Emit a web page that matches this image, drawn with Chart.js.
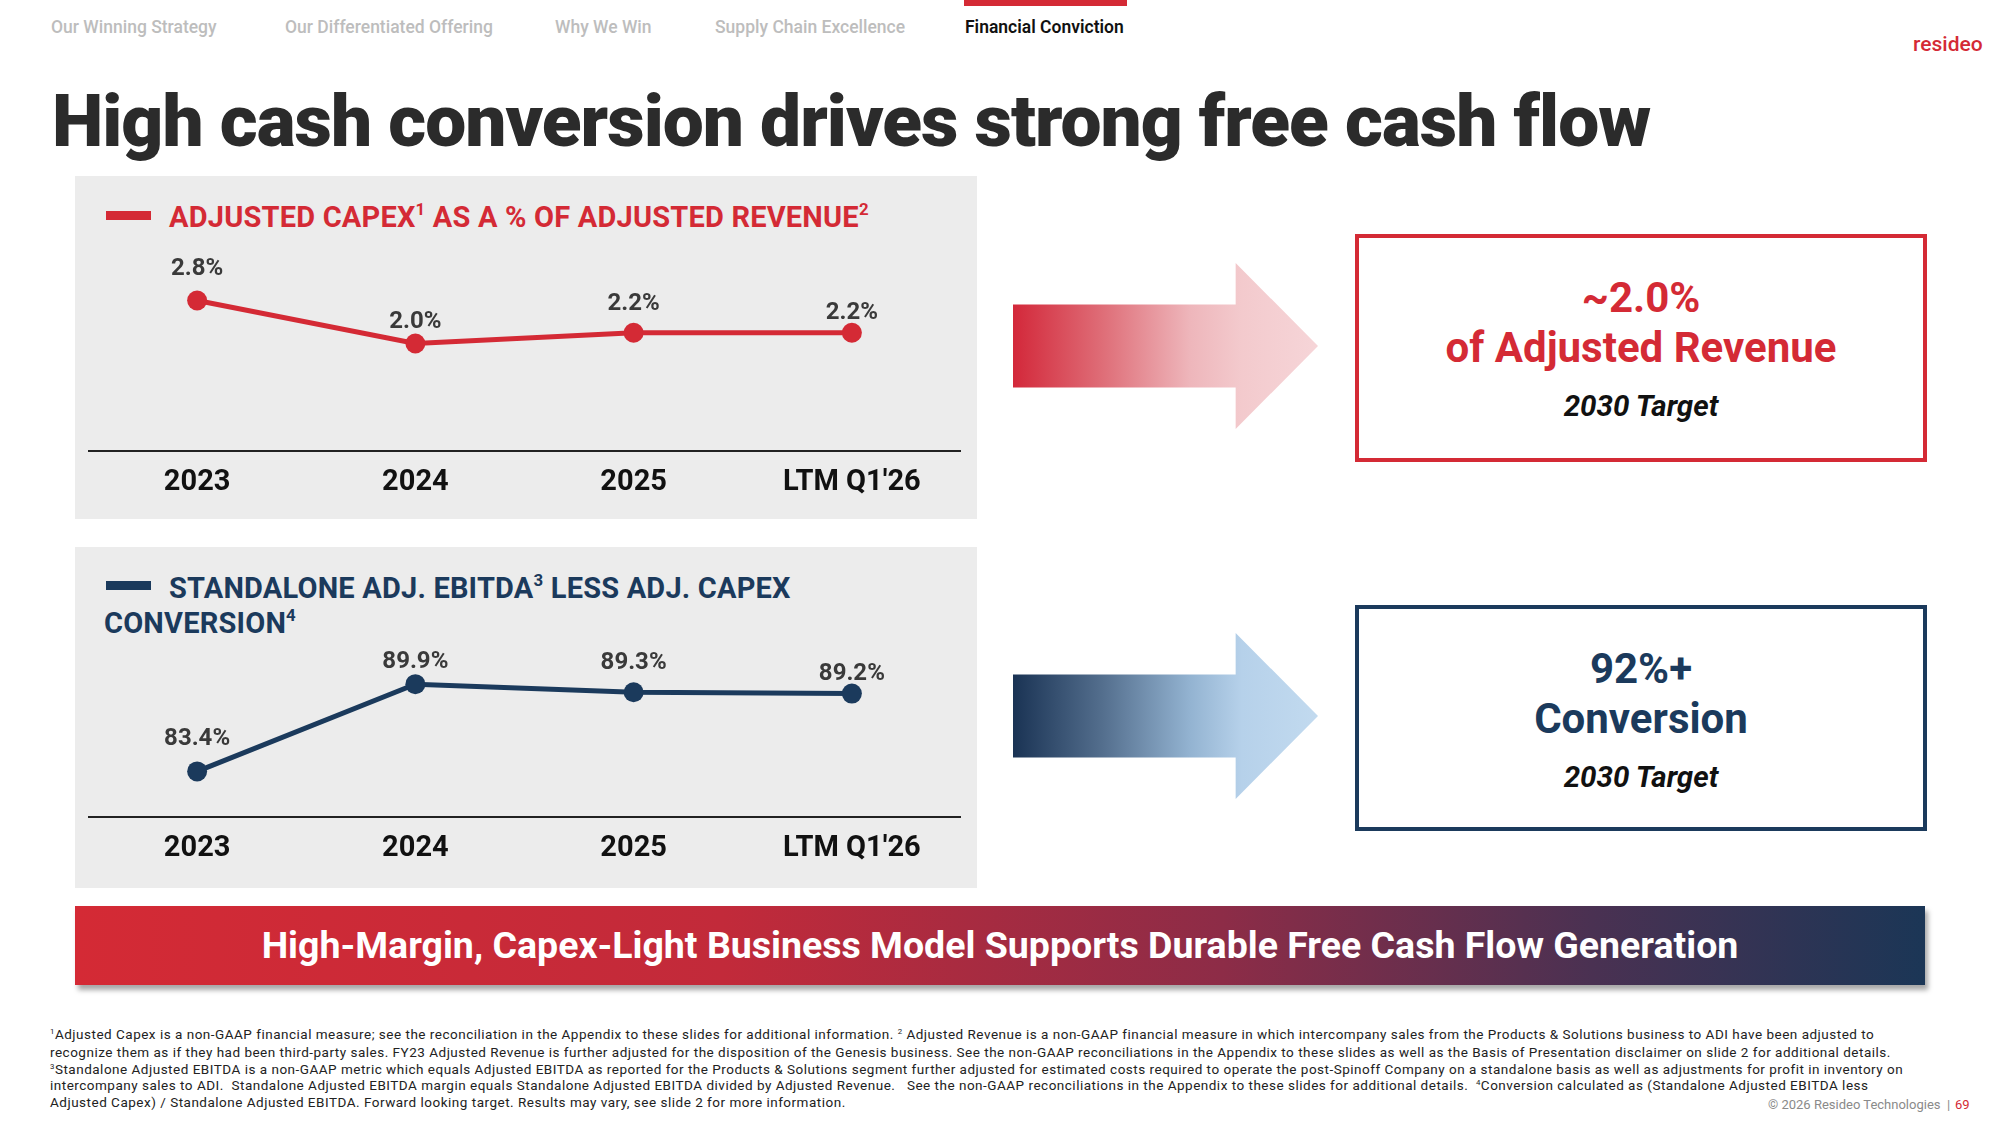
<!DOCTYPE html>
<html>
<head>
<meta charset="utf-8">
<script src="https://cdn.jsdelivr.net/npm/chart.js@4.4.1/dist/chart.umd.min.js"></script>
<style>
  html, body { margin: 0; padding: 0; background: #fff; }
  body { width: 2000px; height: 1125px; position: relative; overflow: hidden; font-family: Roboto, "Noto Sans", sans-serif; }
  .abs { position: absolute; white-space: nowrap; }
  .nav { top: 17px; font-size: 17.5px; font-weight: 500; color: #bdbdbd; }
  .nav.on { color: #111; font-weight: 600; }
  .panel { position: absolute; left: 75px; width: 902px; background: #ececec; }
  .legend-bar { position: absolute; left: 106px; width: 45px; height: 9px; }
  .legend-txt { font-size: 29px; font-weight: 700; letter-spacing: 0.2px; }
  sup { font-size: 58%; vertical-align: 0; position: relative; top: -0.7em; }
  .box { position: absolute; left: 1355px; width: 572px; box-sizing: border-box; border: 4px solid; text-align: center; }
  .big { font-size: 42px; font-weight: 700; }
  .tgt { font-size: 29.5px; font-weight: 700; font-style: italic; color: #111; }
  .arrow { position: absolute; left: 1013px; width: 305px; height: 166px;
           clip-path: polygon(0 25%, 73% 25%, 73% 0, 100% 50%, 73% 100%, 73% 75%, 0 75%); }
  .foot { left: 50px; font-size: 13.5px; letter-spacing: 0.5px; color: #222; }
</style>
</head>
<body>
<div class="abs nav" style="left:51px">Our Winning Strategy</div>
<div class="abs nav" style="left:285px">Our Differentiated Offering</div>
<div class="abs nav" style="left:555px">Why We Win</div>
<div class="abs nav" style="left:715px">Supply Chain Excellence</div>
<div class="abs nav on" style="left:965px">Financial Conviction</div>
<div class="abs" style="left:964px;top:0;width:163px;height:6px;background:#d42a35"></div>
<div class="abs" style="left:1913px;top:32px;font-size:21px;font-weight:500;color:#d42a35">resideo</div>

<div class="abs" id="title" style="left:52px;top:78px;font-size:73px;font-weight:900;color:#2b2b2b;letter-spacing:-1px">High cash conversion drives strong free cash flow</div>

<div class="panel" style="top:176px;height:343px"></div>
<div class="legend-bar" style="top:211px;background:#d42a35"></div>
<div class="abs legend-txt" style="left:169px;top:200px;color:#d42a35">ADJUSTED CAPEX<sup>1</sup> AS A % OF ADJUSTED REVENUE<sup>2</sup></div>
<div class="abs" style="left:88px;top:196px;width:873px;height:314px"><canvas id="capexChart"></canvas></div>

<div class="panel" style="top:547px;height:341px"></div>
<div class="legend-bar" style="top:581px;background:#1b3a5c"></div>
<div class="abs legend-txt" style="left:169px;top:571px;color:#1b3a5c">STANDALONE ADJ. EBITDA<sup>3</sup> LESS ADJ. CAPEX</div>
<div class="abs legend-txt" style="left:104px;top:606px;color:#1b3a5c">CONVERSION<sup>4</sup></div>
<div class="abs" style="left:88px;top:616px;width:873px;height:260px"><canvas id="convChart"></canvas></div>

<div class="arrow" style="top:263px;background:linear-gradient(to right,#d3283a 0%,#df6f79 30%,#eeb6bb 58%,#f3cacd 75%,#f6d5d8 100%)"></div>
<div class="arrow" style="top:633px;background:linear-gradient(to right,#1a3354 0%,#55708f 30%,#93b3d1 58%,#b6d1ea 75%,#c2daef 100%)"></div>

<div class="box" style="top:234px;height:228px;border-color:#d42a35">
  <div class="big" style="color:#d42a35;margin-top:35px;line-height:50px">~2.0%</div>
  <div class="big" style="color:#d42a35;line-height:50px">of Adjusted Revenue</div>
  <div class="tgt" style="margin-top:16px">2030 Target</div>
</div>
<div class="box" style="top:605px;height:226px;border-color:#1b3a5c">
  <div class="big" style="color:#1b3a5c;margin-top:35px;line-height:50px">92%+</div>
  <div class="big" style="color:#1b3a5c;line-height:50px">Conversion</div>
  <div class="tgt" style="margin-top:16px">2030 Target</div>
</div>

<div class="abs" style="left:75px;top:906px;width:1850px;height:79px;background:linear-gradient(to right,#d42a35 0%,#c22a3a 35%,#8d2c47 62%,#4a3152 82%,#1b3656 100%);box-shadow:3px 5px 5px rgba(0,0,0,0.35)"></div>
<div class="abs" style="left:75px;top:906px;width:1850px;line-height:79px;text-align:center;font-size:37.5px;font-weight:700;color:#fff">High-Margin, Capex-Light Business Model Supports Durable Free Cash Flow Generation</div>

<div class="abs foot" style="top:1026px"><sup>1</sup>Adjusted Capex is a non-GAAP financial measure; see the reconciliation in the Appendix to these slides for additional information. <sup>2</sup> Adjusted Revenue is a non-GAAP financial measure in which intercompany sales from the Products &amp; Solutions business to ADI have been adjusted to</div>
<div class="abs foot" style="top:1044px">recognize them as if they had been third-party sales. FY23 Adjusted Revenue is further adjusted for the disposition of the Genesis business. See the non-GAAP reconciliations in the Appendix to these slides as well as the Basis of Presentation disclaimer on slide 2 for additional details.</div>
<div class="abs foot" style="top:1061px"><sup>3</sup>Standalone Adjusted EBITDA is a non-GAAP metric which equals Adjusted EBITDA as reported for the Products &amp; Solutions segment further adjusted for estimated costs required to operate the post-Spinoff Company on a standalone basis as well as adjustments for profit in inventory on</div>
<div class="abs foot" style="top:1077px">intercompany sales to ADI.&nbsp; Standalone Adjusted EBITDA margin equals Standalone Adjusted EBITDA divided by Adjusted Revenue.&nbsp;&nbsp; See the non-GAAP reconciliations in the Appendix to these slides for additional details.&nbsp; <sup>4</sup>Conversion calculated as (Standalone Adjusted EBITDA less</div>
<div class="abs foot" style="top:1094px">Adjusted Capex) / Standalone Adjusted EBITDA. Forward looking target. Results may vary, see slide 2 for more information.</div>
<div class="abs" style="left:1768px;top:1097px;font-size:13px;color:#8a8a8a">© 2026 Resideo Technologies&nbsp; |</div>
<div class="abs" style="left:1955px;top:1097px;font-size:13px;color:#d42a35">69</div>

<script>
const years = ['2023', '2024', '2025', "LTM Q1'26"];
const capexPct = [2.8, 2.0, 2.2, 2.2];
const conversionPct = [83.4, 89.9, 89.3, 89.2];
const labelLift = [32, 22, 29, 20];

const valueLabels = {
  id: 'valueLabels',
  afterDatasetsDraw(chart) {
    const ctx = chart.ctx;
    const meta = chart.getDatasetMeta(0);
    const vals = chart.data.datasets[0].data;
    ctx.save();
    ctx.font = 'bold 24px Roboto';
    ctx.fillStyle = '#3a3a3a';
    ctx.textAlign = 'center';
    ctx.textBaseline = 'middle';
    meta.data.forEach((pt, i) => {
      ctx.fillText(vals[i].toFixed(1) + '%', pt.x, pt.y - labelLift[i]);
    });
    ctx.restore();
  }
};

const makeLine = (id, values, color, min, max) => new Chart(document.getElementById(id), {
  type: 'line',
  data: {
    labels: years,
    datasets: [{
      data: values,
      borderColor: color,
      backgroundColor: color,
      borderWidth: 5,
      pointRadius: 10,
      pointBorderWidth: 0,
      tension: 0,
      clip: false
    }]
  },
  options: {
    responsive: true,
    maintainAspectRatio: false,
    animation: false,
    layout: { padding: { top: 40, left: 0, right: 0, bottom: 0 }, autoPadding: false },
    scales: {
      x: {
        offset: true,
        grid: { display: false },
        border: { display: true, color: '#222', width: 2 },
        ticks: { color: '#111', padding: 6, font: { family: 'Roboto', size: 29, weight: 'bold' } },
        afterFit: s => { s.height = 59; }
      },
      y: { display: false, min: min, max: max }
    },
    plugins: {
      legend: { display: false },
      tooltip: { enabled: false }
    }
  },
  plugins: [valueLabels]
});

makeLine('capexChart', capexPct, '#d42a35', 0, 4);
makeLine('convChart', conversionPct, '#1b3a5c', 80, 92);
</script>
</body>
</html>
